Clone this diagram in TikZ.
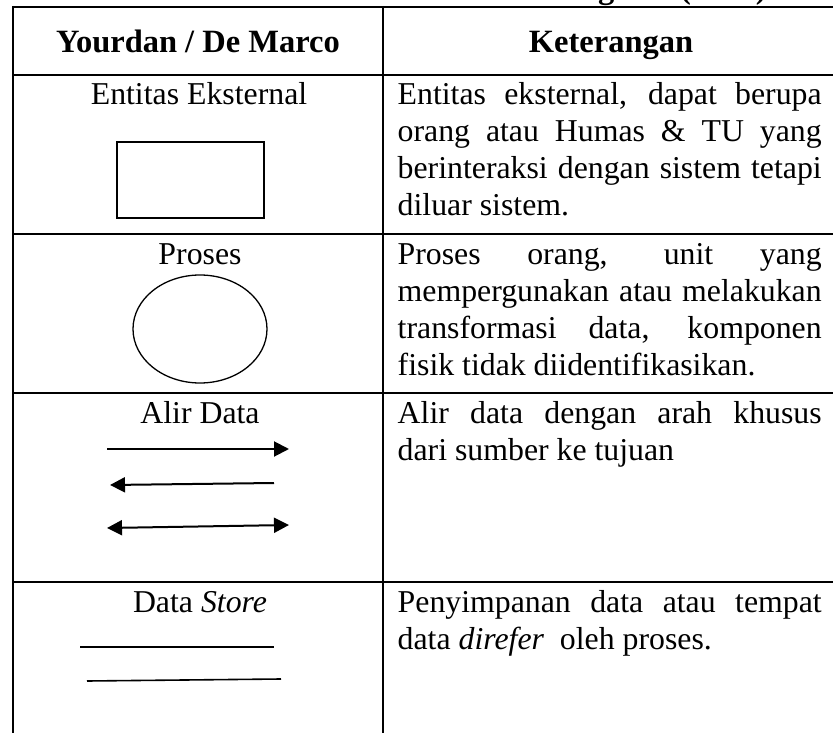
\documentclass[tikz,border=0pt]{standalone}
\usepackage{fontspec}
\setmainfont[Ligatures=NoCommon]{Liberation Serif}
\usetikzlibrary{arrows.meta,shapes.geometric}
\newcommand{\jline}[1]{\makebox[424pt][s]{#1}}
\begin{document}
\begin{tikzpicture}[x=1pt,y=-1pt,
  rule/.style={line width=2pt},
  body/.style={font=\fontsize{31.8}{37}\selectfont, inner sep=0pt},
  head/.style={font=\fontsize{32.5}{37}\selectfont\bfseries, inner sep=0pt},
  cell/.style={body, anchor=base west},
  flow/.style={line width=2pt, -{Triangle[length=15pt,width=15pt]}},
  flowl/.style={line width=2pt, {Triangle[length=15pt,width=15pt]}-},
  flowb/.style={line width=2pt, {Triangle[length=15pt,width=15pt]}-{Triangle[length=15pt,width=15pt]}},
  storeline/.style={line width=1.6pt}]
\useasboundingbox (0,0) rectangle (833,733);
\clip (0,0) rectangle (833,733);
% caption fragment (cut off at the top, as in the reference)
\node[head, anchor=base east] (caption) at (767,-1.5) {Diagram (2012)};
% table rules
\draw[rule] (13,7) -- (840,7);
\draw[rule] (13,75) -- (840,75);
\draw[rule] (13,234) -- (840,234);
\draw[rule] (13,393) -- (840,393);
\draw[rule] (13,582) -- (840,582);
\draw[rule] (13,6) -- (13,740);
\draw[rule] (383,6) -- (383,740);
% header
\node[head, anchor=base] (h1) at (198,53) {Yourdan / De Marco};
\node[head, anchor=base] (h2) at (611,53) {Keterangan};
% left column labels
\node[body, anchor=base] (l1) at (199,105) {Entitas Eksternal};
\node[body, anchor=base] (l2) at (200,264) {Proses};
\node[body, anchor=base] (l3) at (200,423) {Alir Data};
\node[body, anchor=base] (l4) at (200,612) {Data \textit{Store}};
% symbols
\node[draw, line width=2pt, minimum width=147pt, minimum height=76pt, inner sep=0pt] (ent) at (190.5,180) {};
\node[draw, ellipse, line width=1.3pt, minimum width=134pt, minimum height=108pt, inner sep=0pt] (proc) at (200,329) {};
\coordinate (a1s) at (107,449);
\coordinate (a1e) at (289,449);
\coordinate (a2s) at (110,485);
\coordinate (a2e) at (274,483);
\coordinate (a3s) at (107,528);
\coordinate (a3e) at (289,525);
\draw[flow] (a1s) -- (a1e);
\draw[flowl] (a2s) -- (a2e);
\draw[flowb] (a3s) -- (a3e);
\coordinate (s1s) at (80,647);
\coordinate (s1e) at (274,647);
\coordinate (s2s) at (87,681);
\coordinate (s2e) at (281,679);
\draw[storeline] (s1s) -- (s1e);
\draw[storeline] (s2s) -- (s2e);
% right column text
\node[cell] (r1) at (397.5,105) {\parbox[t]{424pt}{%
\jline{Entitas eksternal, dapat berupa}\\
\jline{orang atau Humas \& TU yang}\\
\jline{berinteraksi dengan sistem tetapi}\\
diluar sistem.}};
\node[cell] (r2) at (397.5,264) {\parbox[t]{424pt}{%
\jline{Proses orang, unit yang}\\
\jline{mempergunakan atau melakukan}\\
\jline{transformasi data, komponen}\\
fisik tidak diidentifikasikan.}};
\node[cell] (r3) at (397.5,423) {\parbox[t]{424pt}{%
\jline{Alir data dengan arah khusus}\\
dari sumber ke tujuan}};
\node[cell] (r4) at (397.5,612) {\parbox[t]{424pt}{%
\jline{Penyimpanan data atau tempat}\\
data \textit{direfer}\ \ oleh proses.}};
\end{tikzpicture}
\end{document}
